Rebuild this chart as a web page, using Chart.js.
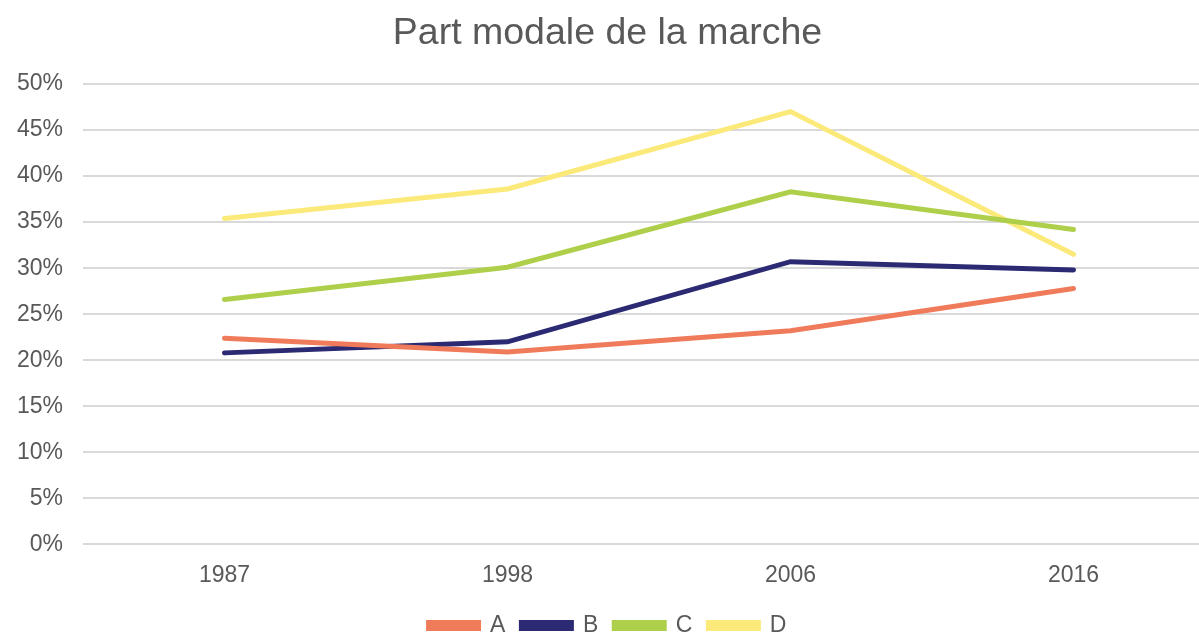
<!DOCTYPE html>
<html>
<head>
<meta charset="utf-8">
<script src="https://cdn.jsdelivr.net/npm/chart.js@4.4.1/dist/chart.umd.min.js"></script>
<style>
  html, body { margin: 0; padding: 0; background: #fff; overflow: hidden; }
  #wrap { width: 1240px; height: 647px; }
</style>
</head>
<body>
<div id="wrap"><canvas id="myChart"></canvas></div>
<script>
const years = ['1987', '1998', '2006', '2016'];
const serieA = [0.224, 0.209, 0.232, 0.278];
const serieB = [0.208, 0.220, 0.307, 0.298];
const serieC = [0.266, 0.301, 0.383, 0.342];
const serieD = [0.354, 0.386, 0.470, 0.315];

const grey = '#595959';

function line(label, data, color) {
  return {
    label: label,
    data: data,
    borderColor: color,
    backgroundColor: color,
    borderWidth: 5,
    borderCapStyle: 'round',
    pointRadius: 0,
    tension: 0
  };
}

const ctx = document.getElementById('myChart').getContext('2d');
const myChart = new Chart(ctx, {
  type: 'line',
  data: {
    labels: years,
    datasets: [
      line('A', serieA, '#f07b5a'),
      line('B', serieB, '#2b2a72'),
      line('C', serieC, '#aecf4a'),
      line('D', serieD, '#fbe97a')
    ]
  },
  options: {
    responsive: true,
    maintainAspectRatio: false,
    animation: false,
    layout: { padding: { right: 25, bottom: 0 } },
    plugins: {
      title: {
        display: true,
        text: 'Part modale de la marche',
        color: grey,
        font: { family: 'Liberation Sans', size: 37.5, weight: 'normal' },
        padding: { top: 11, bottom: 28 }
      },
      legend: {
        position: 'bottom',
        labels: {
          color: grey,
          font: { family: 'Liberation Sans', size: 23 },
          boxWidth: 50,
          boxHeight: 6,
          padding: 16
        }
      },
      tooltip: { enabled: false }
    },
    scales: {
      x: {
        offset: true,
        grid: { display: false },
        border: { display: false },
        ticks: { color: grey, font: { family: 'Liberation Sans', size: 23 }, padding: 9 }
      },
      y: {
        min: 0,
        max: 0.5,
        afterFit: function(scale) { scale.width = 83; },
        grid: { color: '#d9d9d9', lineWidth: 2, drawTicks: false },
        border: { display: false },
        ticks: {
          stepSize: 0.05,
          color: grey,
          padding: 20,
          font: { family: 'Liberation Sans', size: 23 },
          callback: function(v) { return Math.round(v * 100) + '%'; }
        }
      }
    }
  }
});
</script>
</body>
</html>
